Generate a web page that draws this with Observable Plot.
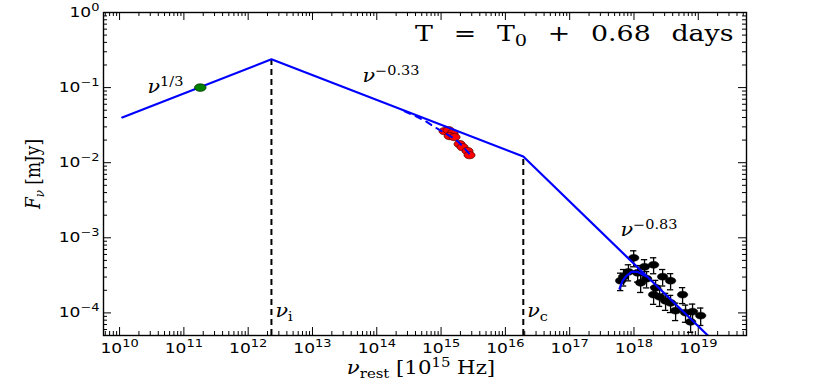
<!DOCTYPE html>
<html><head><meta charset="utf-8">
<script src="https://cdn.jsdelivr.net/npm/d3@7"></script>
<script src="https://cdn.jsdelivr.net/npm/@observablehq/plot@0.6"></script>
<style>html,body{margin:0;padding:0;background:#fff;}</style>
</head><body><div id="chart"></div>
<script>
// ---------------- data ----------------
// broken power-law model (frequency in Hz, flux density in mJy)
const modelNu = [1.1e10, 2.3e12, 1.9e16, 1.41e19];
const modelF  = [0.0401, 0.238, 0.0121, 5.0e-5];
// characteristic break frequencies and the flux at the break
const breakNu = [2.3e12, 1.9e16];
const breakF  = [0.238, 0.0121];
const breakLabels = ["ν{_i}", "ν{_c}"];
// radio / mm point
const radioNu = [1.8e11];
const radioF  = [0.100];
// optical / UV points
const optNu = [1.13e15, 1.31e15, 1.51e15, 1.36e15, 1.62e15, 1.94e15, 2.16e15, 2.58e15, 2.77e15];
const optF  = [0.0263, 0.0271, 0.0247, 0.0226, 0.0219, 0.0177, 0.0161, 0.0143, 0.0126];
// absorbed optical model (dashed)
const optModelNu = [2.71e14, 4.01e14, 5.74e14, 8.51e14, 1.22e15, 1.68e15, 2.16e15, 2.88e15];
const optModelF  = [0.0484, 0.0416, 0.0357, 0.0288, 0.0240, 0.0206, 0.0166, 0.0126];
// X-ray points
const xrayNu    = [6.2e17, 6.9e17, 8.2e17, 9.9e17, 1.14e18, 1.27e18, 1.46e18, 1.57e18, 2.02e18, 2.17e18, 2.02e18, 2.50e18, 2.79e18, 3.10e18, 3.71e18, 3.71e18, 4.44e18, 5.7e18, 6.34e18, 7.6e18, 8.15e18, 1.09e19];
const xrayF     = [2.68e-4, 3.03e-4, 3.52e-4, 5.41e-4, 3.42e-4, 2.52e-4, 4.11e-4, 2.85e-4, 4.37e-4, 2.16e-4, 1.75e-4, 1.64e-4, 3.03e-4, 1.45e-4, 2.68e-4, 1.36e-4, 1.07e-4, 1.75e-4, 1.01e-4, 7.6e-5, 1.04e-4, 9.2e-5];
const xrayFErr  = [0.7e-4, 0.75e-4, 0.85e-4, 1.3e-4, 0.85e-4, 0.65e-4, 1.0e-4, 0.7e-4, 1.05e-4, 0.55e-4, 0.45e-4, 0.42e-4, 0.75e-4, 0.37e-4, 0.65e-4, 0.35e-4, 0.28e-4, 0.42e-4, 0.26e-4, 0.21e-4, 0.27e-4, 0.24e-4];
const xrayNuErr = [0.8e17, 0.9e17, 1.0e17, 1.2e17, 1.4e17, 1.6e17, 1.8e17, 2.0e17, 2.5e17, 2.7e17, 2.5e17, 3.1e17, 3.5e17, 3.9e17, 4.6e17, 4.6e17, 5.5e17, 7.1e17, 7.9e17, 9.5e17, 1.0e18, 1.35e18];
// absorbed X-ray model
const xModelNu = [5.97e17, 6.65e17, 7.67e17, 9.18e17, 1.14e18, 1.51e18];
const xModelF  = [2.10e-4, 2.68e-4, 3.12e-4, 3.52e-4, 3.52e-4, 3.10e-4];
// axis tick exponents
const xTickExp = [10, 11, 12, 13, 14, 15, 16, 17, 18, 19];
const yTickExp = [-4, -3, -2, -1, 0];
// texts
const titleText = "T = T{_0} + 0.68 days";
const slopeLabels = ["ν{^1/3}", "ν{^−0.33}", "ν{^−0.83}"];
const xLabel = "ν{_rest} [10{^15} Hz]";
const yLabel = "{*F}{_ν} [mJy]";

// ---------------- layout ----------------
const W = 830, H = 382, mL = 103, mR = 84, mT = 12, mB = 47;
const pw = W - mL - mR, ph = H - mT - mB;
const xDomain = [10 ** 9.75, 10 ** 19.75];
const yDomain = [5e-5, 1];
const mant = [2, 3, 4, 5, 6, 7, 8, 9];
const xMajor = xTickExp.map(e => 10 ** e);
const yMajor = yTickExp.map(e => 10 ** e);
const xMinor = d3.range(9, 20).flatMap(e => mant.map(m => m * 10 ** e)).filter(v => v > xDomain[0] && v < xDomain[1]);
const yMinor = d3.range(-5, 0).flatMap(e => mant.map(m => m * 10 ** e)).filter(v => v > yDomain[0] && v < yDomain[1]);

const model = modelNu.map((nu, i) => ({nu, f: modelF[i]}));
const breaks = breakNu.map((nu, i) => ({nu, f: breakF[i], label: breakLabels[i]}));
const radio = radioNu.map((nu, i) => ({nu, f: radioF[i]}));
const opt = optNu.map((nu, i) => ({nu, f: optF[i]}));
const optModel = optModelNu.map((nu, i) => ({nu, f: optModelF[i]}));
const xray = xrayNu.map((nu, i) => ({nu, f: xrayF[i], fe: xrayFErr[i], ne: xrayNuErr[i]}));
const xModel = xModelNu.map((nu, i) => ({nu, f: xModelF[i]}));

const ellipse = {draw(ctx, size) {
  const r = Math.sqrt(size / Math.PI), rx = r * 1.25, ry = r * 0.82;
  for (let i = 0; i < 32; i++) {
    const a = i / 32 * 2 * Math.PI;
    const px = rx * Math.cos(a), py = ry * Math.sin(a);
    if (i === 0) ctx.moveTo(px, py); else ctx.lineTo(px, py);
  }
  ctx.closePath();
}};

const SERIF = "DejaVu Serif";
const SANS = "DejaVu Sans";

const plot = Plot.plot({
  width: W, height: H,
  marginLeft: mL, marginRight: mR, marginTop: mT, marginBottom: mB,
  x: {type: "log", domain: xDomain, axis: null},
  y: {type: "log", domain: yDomain, axis: null},
  style: {background: "#fff", fontFamily: SANS, fontSize: "14px", color: "#000"},
  marks: [
    // ticks, inward on all four sides
    Plot.tickX(xMajor, {x: d => d, stroke: "#000", insetTop: ph - 8}),
    Plot.tickX(xMajor, {x: d => d, stroke: "#000", insetBottom: ph - 8}),
    Plot.tickX(xMinor, {x: d => d, stroke: "#000", insetTop: ph - 4}),
    Plot.tickX(xMinor, {x: d => d, stroke: "#000", insetBottom: ph - 4}),
    Plot.tickY(yMajor, {y: d => d, stroke: "#000", insetRight: pw - 8}),
    Plot.tickY(yMajor, {y: d => d, stroke: "#000", insetLeft: pw - 8}),
    Plot.tickY(yMinor, {y: d => d, stroke: "#000", insetRight: pw - 4}),
    Plot.tickY(yMinor, {y: d => d, stroke: "#000", insetLeft: pw - 4}),
    // tick labels
    Plot.text(xTickExp, {x: d => 10 ** d, text: d => `10{^${d}}`, frameAnchor: "bottom", dy: 17, lineAnchor: "bottom", fontFamily: SANS, fontSize: 14, fill: "#000"}),
    Plot.text(yTickExp, {y: d => 10 ** d, text: d => `10{^${d < 0 ? "−" + (-d) : d}}`, frameAnchor: "left", dx: -4, textAnchor: "end", lineAnchor: "middle", fontFamily: SANS, fontSize: 14, fill: "#000"}),
    // break frequencies
    Plot.ruleX(breaks, {x: "nu", y1: yDomain[0], y2: "f", stroke: "#000", strokeWidth: 2, strokeDasharray: "6,4"}),
    Plot.text(breaks, {x: "nu", text: "label", frameAnchor: "bottom", dx: 4, dy: -19, textAnchor: "start", lineAnchor: "bottom", fontFamily: SERIF, fontSize: 18, fill: "#000"}),
    // data
    Plot.ruleX(xray, {x: "nu", y1: d => d.f - d.fe, y2: d => d.f + d.fe, stroke: "#000", strokeWidth: 1.3}),
    Plot.ruleY(xray, {y: d => d.f + d.fe, x1: d => d.nu / 1.12, x2: d => d.nu * 1.12, stroke: "#000", strokeWidth: 1.3}),
    Plot.ruleY(xray, {y: d => d.f - d.fe, x1: d => d.nu / 1.12, x2: d => d.nu * 1.12, stroke: "#000", strokeWidth: 1.3}),
    Plot.ruleY(xray, {y: "f", x1: d => d.nu - d.ne, x2: d => d.nu + d.ne, stroke: "#000", strokeWidth: 1.3}),
    Plot.dot(xray, {x: "nu", y: "f", r: 4.2, symbol: ellipse, fill: "#000", stroke: "#000", strokeWidth: 0.5}),
    Plot.line(xModel, {x: "nu", y: "f", stroke: "#0000ff", strokeWidth: 2.2}),
    Plot.dot(opt, {x: "nu", y: "f", r: 4.4, symbol: ellipse, fill: "#ff0000", stroke: "#5a0000", strokeWidth: 0.8}),
    Plot.line(optModel, {x: "nu", y: "f", stroke: "#0000ff", strokeWidth: 2, strokeDasharray: "6,6"}),
    Plot.line(model, {x: "nu", y: "f", stroke: "#0000ff", strokeWidth: 2.2, clip: true}),
    Plot.dot(radio, {x: "nu", y: "f", r: 4.6, symbol: ellipse, fill: "#008000", stroke: "#003000", strokeWidth: 0.8}),
    // slope labels
    Plot.text([slopeLabels[0]], {x: 2.72e10, y: 0.084, text: d => d, textAnchor: "start", lineAnchor: "bottom", fontFamily: SERIF, fontSize: 18, fill: "#000"}),
    Plot.text([slopeLabels[1]], {x: 6.0e13, y: 0.1175, text: d => d, textAnchor: "start", lineAnchor: "bottom", fontFamily: SERIF, fontSize: 18, fill: "#000"}),
    Plot.text([slopeLabels[2]], {x: 6.17e17, y: 1.06e-3, text: d => d, textAnchor: "start", lineAnchor: "bottom", fontFamily: SERIF, fontSize: 18, fill: "#000"}),
    // title
    Plot.text([titleText], {frameAnchor: "top-right", text: d => d, dx: -13, dy: 28, textAnchor: "end", lineAnchor: "bottom", fontFamily: SERIF, fontSize: 22, fill: "#000"}),
    // axis labels
    Plot.text([xLabel], {frameAnchor: "bottom", text: d => d, dx: -4, dy: 38, textAnchor: "middle", lineAnchor: "bottom", fontFamily: SERIF, fontSize: 18.5, fill: "#000"}),
    Plot.text([yLabel], {frameAnchor: "left", text: d => d, dx: -64, dy: 0, rotate: -90, textAnchor: "middle", lineAnchor: "bottom", fontFamily: SERIF, fontSize: 17, fill: "#000"}),
    Plot.frame({stroke: "#000", strokeWidth: 1.4})
  ]
});
document.getElementById("chart").appendChild(plot);

// ---------------- rich text (super/subscripts, italics) ----------------
const NS = "http://www.w3.org/2000/svg";
function richify(el, fs, supShift, subShift, scale) {
  const s = el.textContent;
  const parts = s.split(/(\{[_^*][^}]*\})/).filter(p => p.length);
  while (el.firstChild) el.removeChild(el.firstChild);
  let cur = 0;
  for (const p of parts) {
    const m = p.match(/^\{([_^*])(.*)\}$/);
    let txt = p, shift = 0, size = null, forceItalic = false;
    if (m) {
      txt = m[2];
      if (m[1] === "^") { shift = -supShift; size = fs * scale; }
      else if (m[1] === "_") { shift = subShift; size = fs * scale; }
      else forceItalic = true;
    }
    const segs = txt.split(/(ν)/).filter(q => q.length);
    let first = true;
    for (const q of segs) {
      const t = document.createElementNS(NS, "tspan");
      t.textContent = q;
      if (size) t.setAttribute("font-size", size);
      if (forceItalic || q === "ν") t.setAttribute("font-style", "italic");
      if (first && shift !== cur) { t.setAttribute("dy", shift - cur); cur = shift; }
      first = false;
      el.appendChild(t);
    }
  }
}
function stretch(el, sx, sy) {
  const x = +el.getAttribute("x") || 0, y = +el.getAttribute("y") || 0;
  const tr = el.getAttribute("transform") || "";
  el.setAttribute("transform", `${tr} translate(${x},${y}) scale(${sx},${sy}) translate(${-x},${-y})`);
}
Array.from(plot.querySelectorAll("text")).forEach(el => {
  const s = el.textContent;
  if (!/[{ν]/.test(s) && !/days/.test(s)) return;
  const cs = getComputedStyle(el);
  const fs = parseFloat(cs.fontSize);
  const serif = /Serif/.test(cs.fontFamily);
  const rotated = /rotate/.test(el.getAttribute("transform") || "") || /rotate/.test(el.parentNode.getAttribute("transform") || "");
  if (!serif) { richify(el, fs, 6, 0, 0.76); stretch(el, 1.22, 1); return; }
  if (fs > 20) { el.style.wordSpacing = "10px"; richify(el, fs, 8, 5, 0.72); stretch(el, 1.22, 1); return; }
  if (rotated) { richify(el, fs, 7, 4, 0.7); stretch(el, 1, 1.15); return; }
  richify(el, fs, 7, 4, 0.7); stretch(el, 1.15, 1);
});
</script>
</body></html>
